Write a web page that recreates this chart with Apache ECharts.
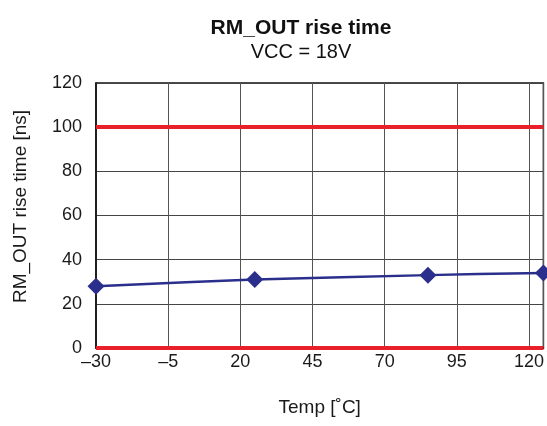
<!DOCTYPE html>
<html>
<head>
<meta charset="utf-8">
<script src="https://cdn.jsdelivr.net/npm/echarts@6/dist/echarts.min.js"></script>
<style>html,body{margin:0;padding:0;background:#fff}#c{width:547px;height:426px}</style>
</head>
<body>
<div id="c"></div>
<script>
var temps = [-30, 25, 85, 125];
var riseTime = [28, 31, 33, 34];
var limitValues = [0, 100];
var xTicks = [-30, -5, 20, 45, 70, 95, 120];
var yTicks = [0, 20, 40, 60, 80, 100, 120];

var font = '"Liberation Sans", Arial, Helvetica, sans-serif';
var chart = echarts.init(document.getElementById('c'));
chart.setOption({
  animation: false,
  title: {
    text: 'RM_OUT rise time',
    subtext: 'VCC = 18V',
    left: 296, textAlign: 'center', top: 13,
    itemGap: 3,
    textStyle: {fontFamily: font, fontSize: 21, fontWeight: 'bold', color: '#111'},
    subtextStyle: {fontFamily: font, fontSize: 20, color: '#111'}
  },
  grid: {left: 96, right: 3, top: 83, bottom: 78, show: true, borderColor: '#111', borderWidth: 1.5, backgroundColor: 'transparent'},
  xAxis: {
    type: 'value', min: -30, max: 125, interval: 25,
    name: 'Temp [˚C]', nameLocation: 'middle', nameGap: 50,
    nameTextStyle: {fontFamily: font, fontSize: 19, color: '#1a1a1a'},
    axisLine: {show: true, onZero: false, lineStyle: {color: '#111', width: 1.5}},
    axisTick: {show: false},
    splitLine: {show: true, lineStyle: {color: '#555', width: 1}},
    axisLabel: {
      fontFamily: font, fontSize: 18, color: '#1a1a1a', margin: 5, showMaxLabel: false,
      formatter: function (v) { return xTicks.indexOf(v) < 0 ? '' : String(v).replace('-', '–'); }
    }
  },
  yAxis: {
    type: 'value', min: 0, max: 120, interval: 20,
    name: 'RM_OUT rise time [ns]', nameLocation: 'middle', nameGap: 66,
    nameTextStyle: {fontFamily: font, fontSize: 19, color: '#1a1a1a', padding: [0, 0, 0, 18]},
    axisLine: {show: true, onZero: false, lineStyle: {color: '#111', width: 1.5}},
    axisTick: {show: false},
    splitLine: {show: true, lineStyle: {color: '#444', width: 1}},
    axisLabel: {fontFamily: font, fontSize: 18, color: '#1a1a1a', margin: 14,
      formatter: function (v) { return yTicks.indexOf(v) < 0 ? '' : String(v); }}
  },
  series: [{
    type: 'line',
    data: temps.map(function (t, i) { return [t, riseTime[i]]; }),
    smooth: 0.3,
    symbol: 'diamond', symbolSize: 17,
    lineStyle: {color: '#2b2f8c', width: 2.5},
    itemStyle: {color: '#2b2f8c'},
    clip: false,
    z: 5,
    markLine: {
      silent: true, symbol: 'none', label: {show: false},
      lineStyle: {color: '#e8202a', width: 4, type: 'solid'},
      data: limitValues.map(function (v) { return {yAxis: v}; })
    }
  }]
});
</script>
</body>
</html>
